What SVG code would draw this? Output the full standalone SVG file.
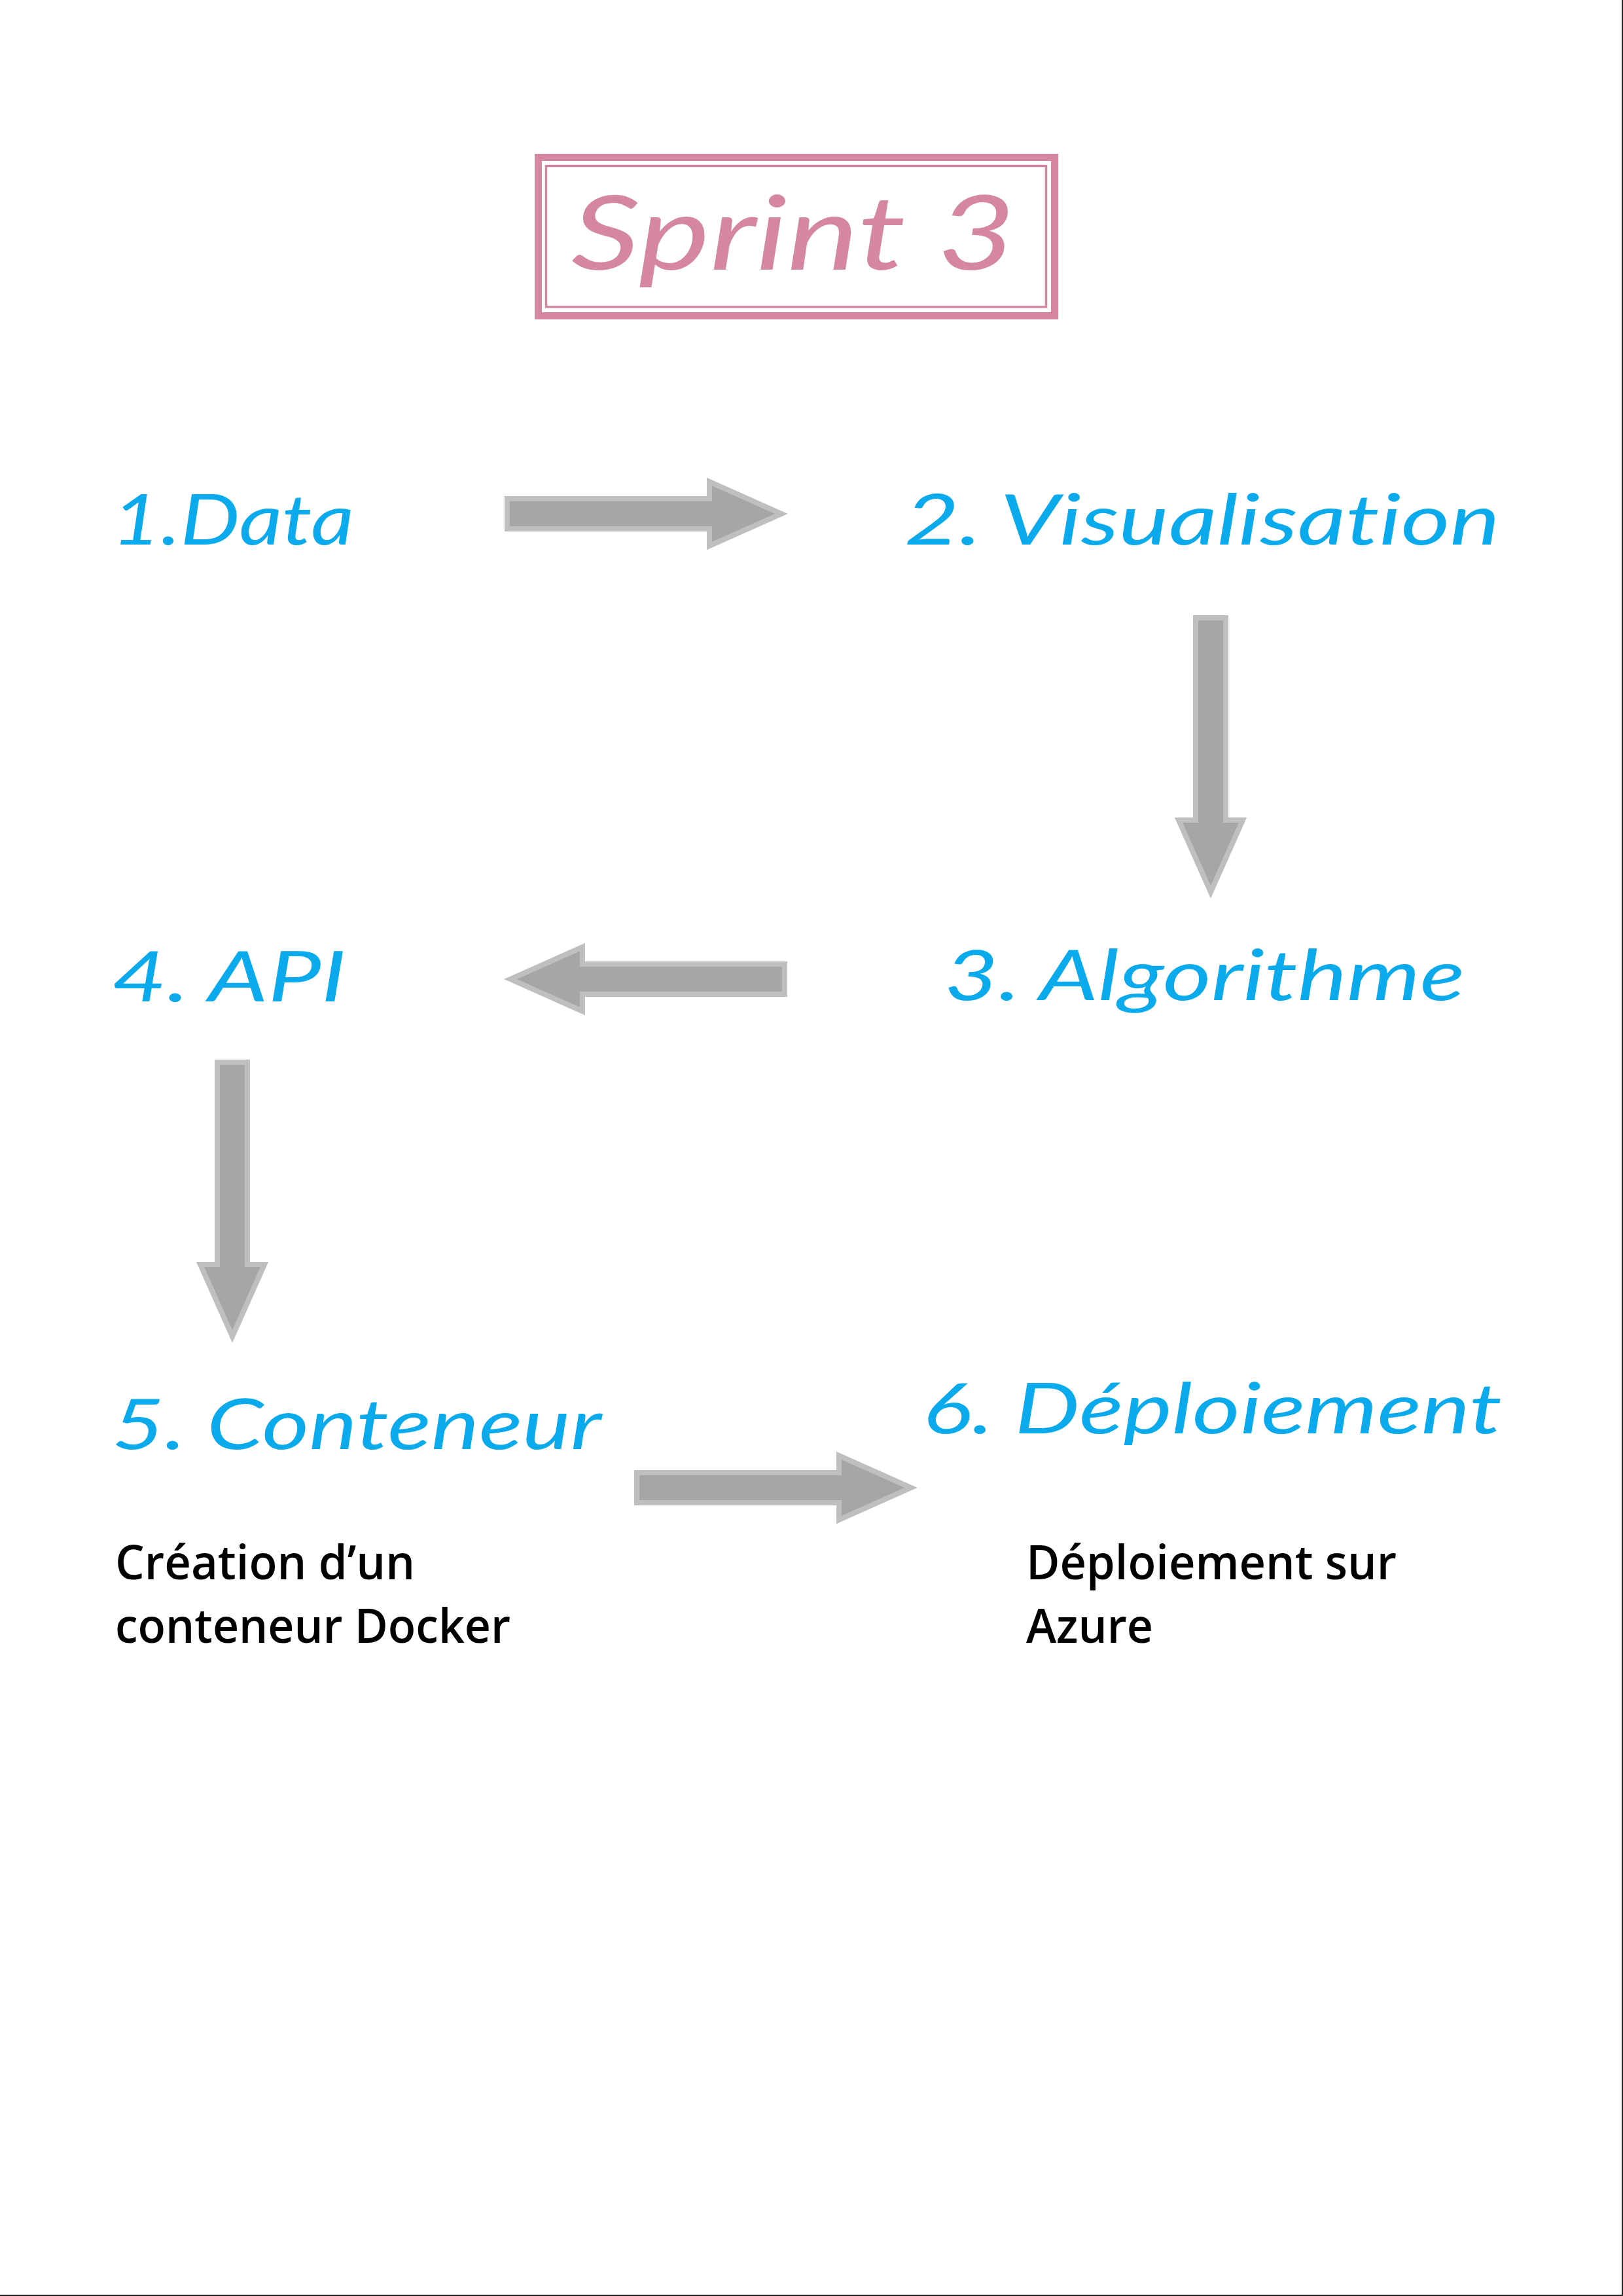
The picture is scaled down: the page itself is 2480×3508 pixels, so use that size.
<svg xmlns="http://www.w3.org/2000/svg" xmlns:xlink="http://www.w3.org/1999/xlink" width="2480" height="3508" viewBox="0 0 2480 3508">
  <style>
    .hand { font-family: "Segoe Print", "Lato", "Open Sans", sans-serif; font-style: italic; font-weight: 400; font-variant-ligatures: none; }
    .step { fill: #0AAAEC; font-size: 106px; }
    .title { fill: #D5879F; font-size: 158px; }
    .desc { font-family: "Segoe UI", "Open Sans", "Noto Sans", sans-serif; font-weight: 600; font-size: 73px; fill: #000000; }
    .arrow { fill: #A6A6A6; stroke: #BFBFBF; stroke-width: 8; stroke-linejoin: miter; }
  </style>
  <defs>
    <path id="arrow" class="arrow" d="M4,-23 H313 V-49 L423,0 L313,49 V23 H4 Z"/>
  </defs>
  <rect x="0" y="0" width="2480" height="3508" fill="#FFFFFF"/>
  <line x1="2479" y1="0" x2="2479" y2="3508" stroke="#222222" stroke-width="2"/>
  <line x1="0" y1="3507" x2="2480" y2="3507" stroke="#222222" stroke-width="2"/>

  <g id="title">
    <rect x="822.5" y="240.5" width="789" height="242" fill="none" stroke="#D5879F" stroke-width="11"/>
    <rect x="834.5" y="253.5" width="764" height="215.5" fill="none" stroke="#D5879F" stroke-width="3.5"/>
    <text class="hand title" x="873" y="412" textLength="679" lengthAdjust="spacingAndGlyphs">Sprint 3</text>
  </g>

  <g id="connectors">
    <use xlink:href="#arrow" href="#arrow" transform="translate(771,785)"/>
    <use xlink:href="#arrow" href="#arrow" transform="translate(1850,940) rotate(90)"/>
    <use xlink:href="#arrow" href="#arrow" transform="translate(1203,1496) rotate(180)"/>
    <use xlink:href="#arrow" href="#arrow" transform="translate(355,1619) rotate(90)"/>
    <use xlink:href="#arrow" href="#arrow" transform="translate(969,2273)"/>
  </g>

  <g id="node-data">
    <text class="hand step" x="171" y="832" textLength="370" lengthAdjust="spacingAndGlyphs">1.Data</text>
  </g>
  <g id="node-visualisation">
    <text class="hand step" x="1382" y="832" textLength="910" lengthAdjust="spacingAndGlyphs">2. Visualisation</text>
  </g>
  <g id="node-algorithme">
    <text class="hand step" x="1443" y="1528" textLength="795" lengthAdjust="spacingAndGlyphs">3. Algorithme</text>
  </g>
  <g id="node-api">
    <text class="hand step" x="171" y="1530" textLength="358" lengthAdjust="spacingAndGlyphs">4. API</text>
  </g>
  <g id="node-conteneur">
    <text class="hand step" x="171" y="2214" textLength="748" lengthAdjust="spacingAndGlyphs">5. Conteneur</text>
    <text class="desc" x="176" y="2413" textLength="458" lengthAdjust="spacingAndGlyphs">Création d’un</text>
    <text class="desc" x="176" y="2510" textLength="604" lengthAdjust="spacingAndGlyphs">conteneur Docker</text>
  </g>
  <g id="node-deploiement">
    <text class="hand step" x="1410" y="2190" textLength="885" lengthAdjust="spacingAndGlyphs">6. Déploiement</text>
    <text class="desc" x="1568" y="2413" textLength="566" lengthAdjust="spacingAndGlyphs">Déploiement sur</text>
    <text class="desc" x="1568" y="2510" textLength="194" lengthAdjust="spacingAndGlyphs">Azure</text>
  </g>
</svg>
